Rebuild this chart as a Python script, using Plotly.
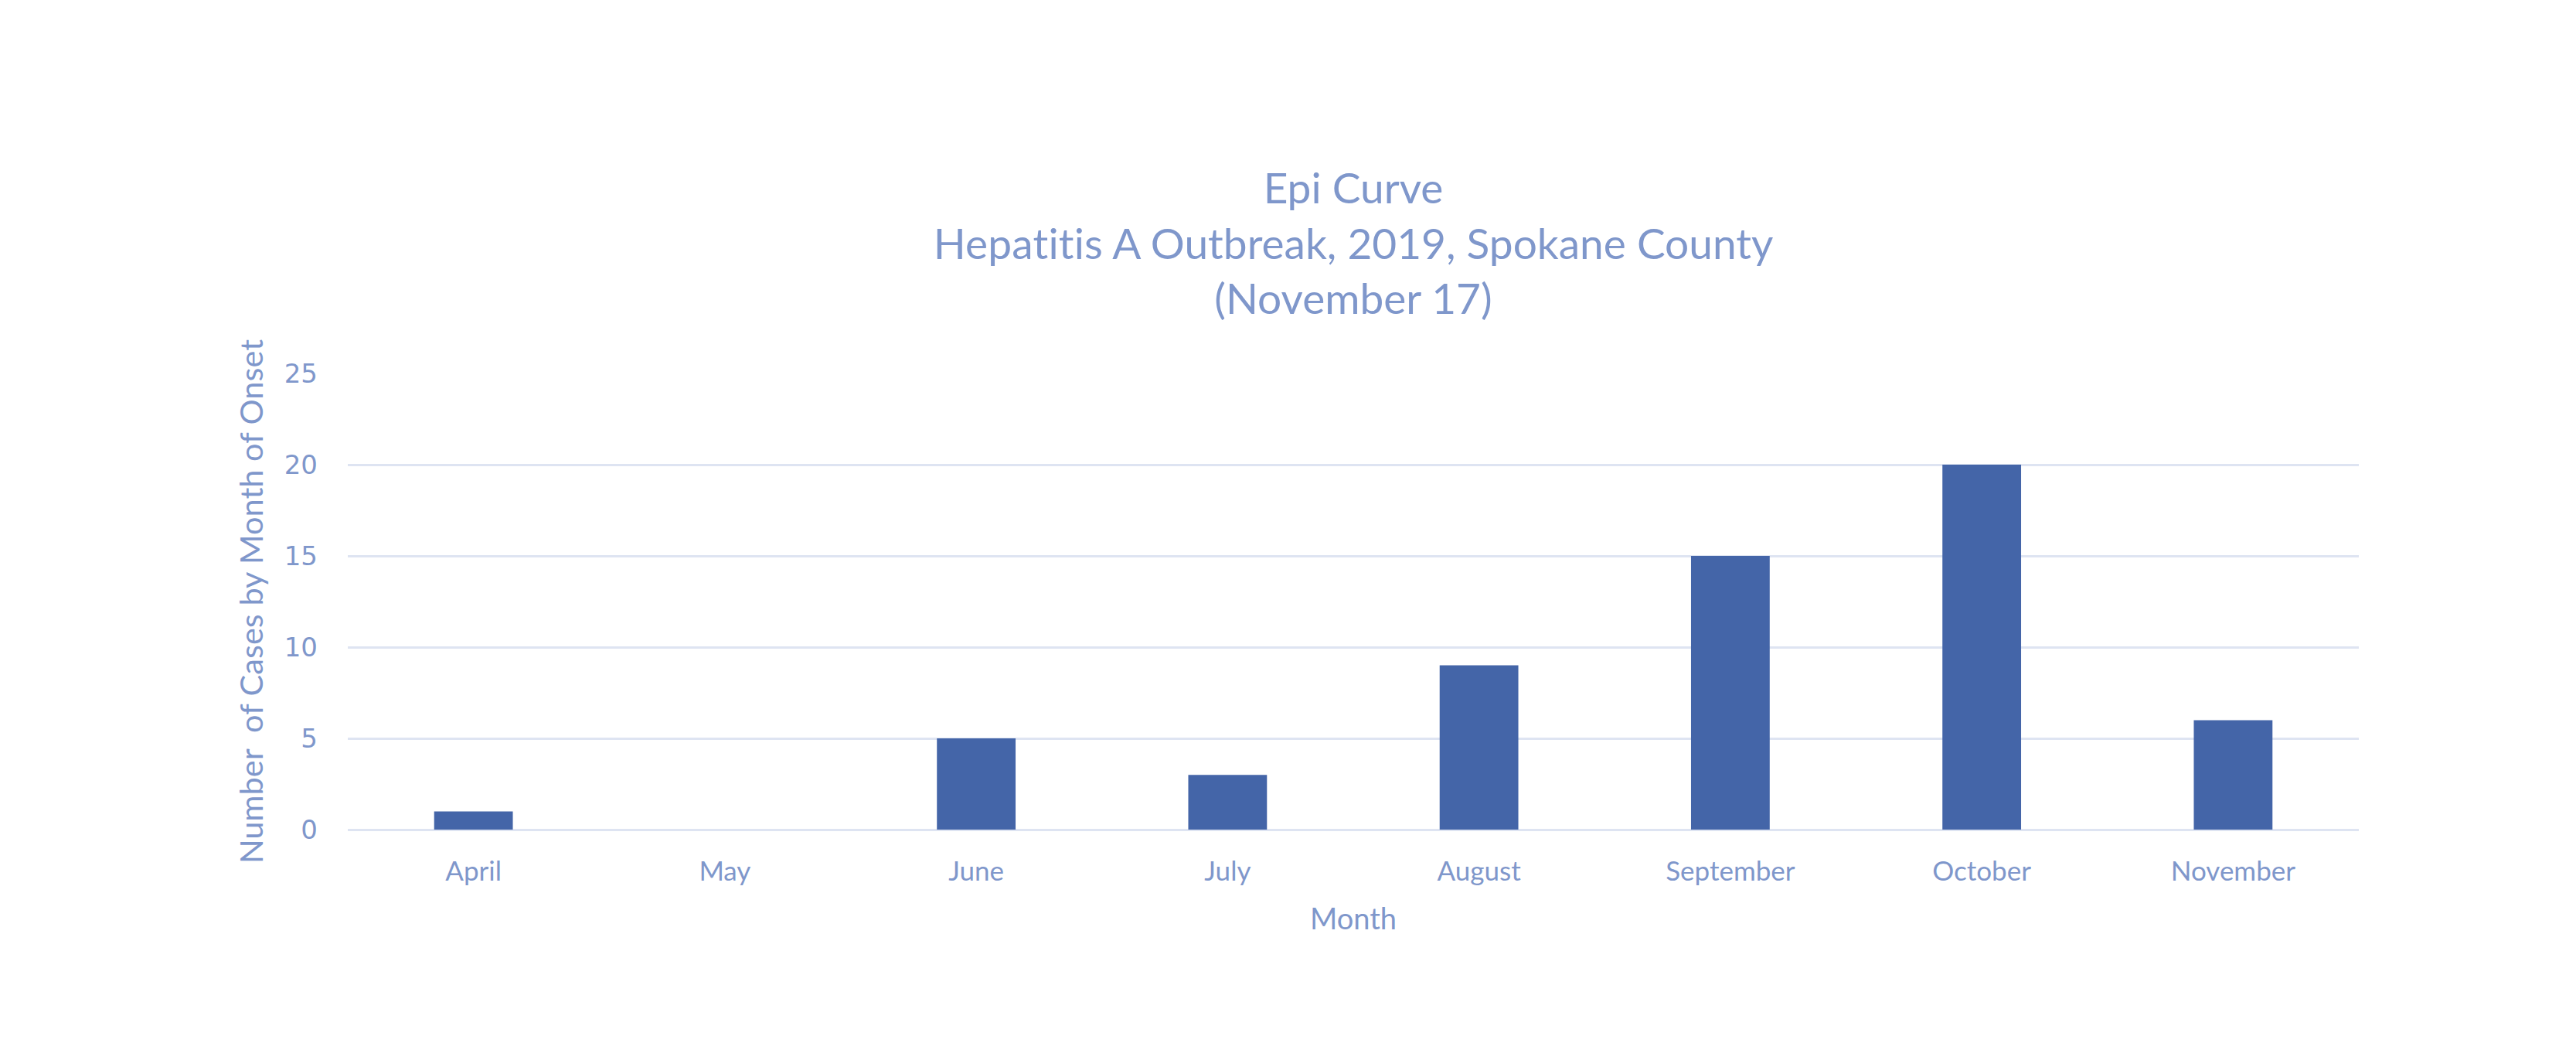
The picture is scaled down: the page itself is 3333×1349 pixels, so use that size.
import plotly.graph_objects as go

months = ["April", "May", "June", "July", "August", "September", "October", "November"]
cases = [1, 0, 5, 3, 9, 15, 20, 6]
y_ticks = [0, 5, 10, 15, 20, 25]

title_lines = [
    "Epi Curve",
    "<span style='letter-spacing:0.2px'>Hepatitis</span> A Outbreak, 2019, Spokane County",
    "(November 17)",
]
x_title = "Month"
y_title = "Number  of Cases by Month of Onset"

TEXT = "#7F97CB"
BAR = "#4465A8"
GRID = "#DEE4F2"
FONT = "Lato"

fig = go.Figure(
    go.Bar(
        x=months,
        y=cases,
        marker=dict(color=BAR, line=dict(width=0)),
    )
)

fig.update_layout(
    width=3333,
    height=1349,
    paper_bgcolor="white",
    plot_bgcolor="white",
    margin=dict(l=442, r=289, t=475, b=284),
    bargap=0.687,
    showlegend=False,
    title=dict(
        text="<br>".join(title_lines),
        font=dict(family=FONT, size=55, color=TEXT),
        x=0.5,
        xanchor="center",
        xref="paper",
        yref="container",
        y=1 - 255 / 1349,
        yanchor="middle",
    ),
    font=dict(family=FONT, color=TEXT),
)

fig.update_xaxes(
    showgrid=False,
    showline=False,
    ticks="",
    automargin=False,
    tickfont=dict(family=FONT, size=35, color=TEXT),
    ticklabelstandoff=30,
    title=dict(text=x_title, font=dict(family=FONT, size=38, color=TEXT), standoff=30),
)

fig.update_yaxes(
    range=[0, 25],
    tickvals=y_ticks,
    showgrid=True,
    gridcolor=GRID,
    gridwidth=3,
    zeroline=True,
    zerolinecolor=GRID,
    zerolinewidth=3,
    showline=False,
    ticks="",
    automargin=False,
    tickfont=dict(family="DejaVu Sans", size=34, color=TEXT),
    ticklabelstandoff=38,
    title=dict(text=y_title, font=dict(family=FONT, size=41.5, color=TEXT), standoff=14),
)

fig.write_html("out.html")
